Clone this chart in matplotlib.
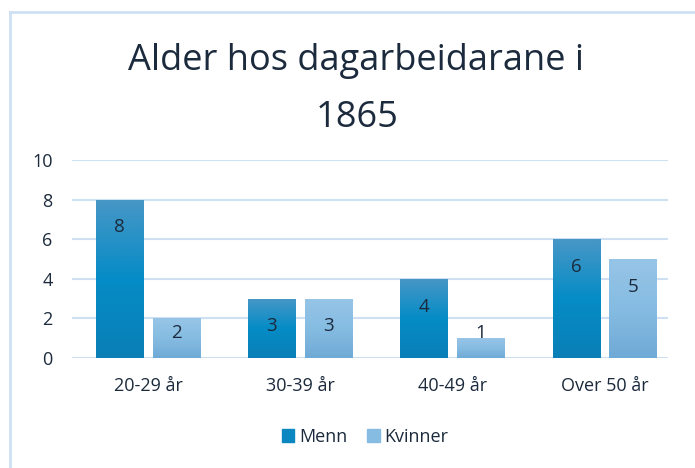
import numpy as np
import matplotlib.pyplot as plt
from matplotlib.colors import LinearSegmentedColormap
from matplotlib.lines import Line2D

plt.rcParams['font.family'] = ['Open Sans', 'DejaVu Sans']

# Data
kategoriar = ['20-29 år', '30-39 år', '40-49 år', 'Over 50 år']
menn = [8, 3, 4, 6]
kvinner = [2, 3, 1, 5]
serie_namn = ['Menn', 'Kvinner']

tekst_farge = '#1b2a3c'
grid_farge = '#cfe0f3'

cmap_menn = LinearSegmentedColormap.from_list('menn', ['#0a7fb6', '#058cc6', '#4897c6'])
cmap_kvinner = LinearSegmentedColormap.from_list('kvinner', ['#6faad6', '#86bce2', '#97c5e7'])

fig = plt.figure(figsize=(6.95, 4.68), dpi=100)
ax = fig.add_axes([72 / 695, 1 - 358 / 468, 596 / 695, 198 / 468])

x = np.arange(len(kategoriar))
w = 0.31
off = 0.187

def gradient_bars(xs, verdiar, cmap):
    bars = ax.bar(xs, verdiar, width=w, color='none', zorder=3)
    grad = np.linspace(0, 1, 256).reshape(-1, 1)
    for b in bars:
        x0, y0 = b.get_x(), b.get_y()
        h = b.get_height()
        im = ax.imshow(grad, extent=[x0, x0 + b.get_width(), y0, y0 + h],
                       origin='lower', cmap=cmap, aspect='auto', zorder=3)
        im.set_clip_path(b)
    return bars

b1 = gradient_bars(x - off, menn, cmap_menn)
b2 = gradient_bars(x + off, kvinner, cmap_kvinner)

# etikettar: like under toppen, men aldri for nær botnen
for bars, vals in [(b1, menn), (b2, kvinner)]:
    for b, v in zip(bars, vals):
        ax.text(b.get_x() + b.get_width() / 2, max(v - 1.4, 1.25), str(v),
                ha='center', va='center', fontsize=13.5, color=tekst_farge, zorder=5)

ax.set_xlim(-0.4993, 3.4167)
ax.set_ylim(0, 10)
ax.set_yticks(range(0, 11, 2))
ax.set_xticks(x)
ax.set_xticklabels(kategoriar)
ax.tick_params(length=0, labelsize=13, labelcolor=tekst_farge)
ax.tick_params(axis='y', pad=14)
ax.tick_params(axis='x', pad=14)
ax.grid(axis='y', color=grid_farge, linewidth=1.5, zorder=0)
ax.set_axisbelow(True)
for s in ax.spines.values():
    s.set_visible(False)

fig.text(356.5 / 695, 1 - 70 / 468, 'Alder hos dagarbeidarane i', ha='center', va='baseline',
         fontsize=26, color=tekst_farge)
fig.text(357 / 695, 1 - 127 / 468, '1865', ha='center', va='baseline',
         fontsize=26, color=tekst_farge)

handles = [plt.Rectangle((0, 0), 1, 1, color='#0a86c0'),
           plt.Rectangle((0, 0), 1, 1, color='#86bce2')]
fig.legend(handles, serie_namn, loc='center', bbox_to_anchor=(365 / 695, 1 - 437 / 468),
           ncol=2, frameon=False, fontsize=13, handlelength=0.7, handleheight=0.7,
           handletextpad=0.25, columnspacing=1.1, labelcolor=tekst_farge)

# ramme rundt diagrammet
fig.add_artist(Line2D([10 / 695, 10 / 695], [0, 1 - 12 / 468], transform=fig.transFigure,
                      color=grid_farge, linewidth=2))
fig.add_artist(Line2D([10 / 695, 1], [1 - 12 / 468, 1 - 12 / 468], transform=fig.transFigure,
                      color=grid_farge, linewidth=2))

fig.savefig('out.png', dpi=100)
